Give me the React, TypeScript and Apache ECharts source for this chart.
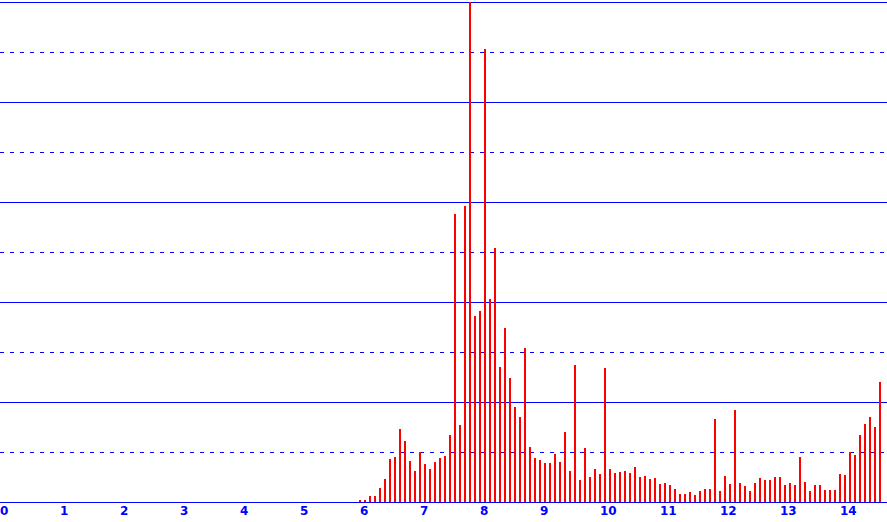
import React, { useEffect, useRef } from "react";
import * as echarts from "echarts";

// First bar sits at x = 6, then one bar every 1/12 of a unit
const firstX = 6;
const barsPerUnit = 12;
const values = [
  2, 2, 6, 6, 14, 23, 43, 45, 73, 61, 41, 31,
  50, 38, 33, 40, 44, 46, 67, 288, 77, 296, 500, 186,
  191, 453, 203, 254, 135, 174, 124, 95, 85, 154, 55, 44,
  42, 39, 39, 48, 40, 70, 31, 137, 22, 54, 25, 33,
  28, 134, 33, 29, 30, 31, 29, 35, 25, 26, 23, 24,
  18, 19, 17, 13, 8, 8, 10, 7, 11, 13, 13, 83,
  11, 26, 18, 92, 19, 16, 11, 19, 24, 22, 22, 25,
  25, 17, 19, 17, 45, 20, 11, 17, 17, 12, 12, 12,
  28, 27, 50, 47, 67, 78, 85, 75, 120,
];
const xMin = 0;
const xMax = 887 / 60;
const yMax = 500;
const yInterval = 100;

export default function App() {
  const ref = useRef<HTMLDivElement>(null);
  useEffect(() => {
    document.body.style.margin = "0";
    if (!ref.current) return;
    const chart = echarts.init(ref.current, null, { renderer: "svg" });
    const data = values.map((v, i) => [firstX + i / barsPerUnit, v]);
    chart.setOption({
      animation: false,
      backgroundColor: "#ffffff",
      grid: {
        left: 0,
        right: 0,
        top: 2,
        bottom: 20,
        containLabel: false,
        outerBoundsMode: "none",
      },
      xAxis: {
        type: "value",
        min: xMin,
        max: xMax,
        interval: 1,
        axisLine: { show: true, lineStyle: { color: "#0000ff", width: 1 } },
        axisTick: { show: false },
        splitLine: { show: false },
        axisLabel: {
          color: "#0000ff",
          fontFamily: "DejaVu Sans",
          fontWeight: "bold",
          fontSize: 12,
          align: "left",
          margin: 3,
          showMaxLabel: false,
          formatter: (v: number) => (Math.abs(v - Math.round(v)) < 1e-6 ? String(Math.round(v)) : ""),
        },
      },
      yAxis: {
        type: "value",
        min: 0,
        max: yMax,
        interval: yInterval,
        axisLine: { show: false },
        axisTick: { show: false },
        axisLabel: { show: false },
        splitLine: { show: true, lineStyle: { color: "#0000ff", width: 1, type: "solid" } },
        minorTick: { show: false, splitNumber: 2 },
        minorSplitLine: {
          show: true,
          lineStyle: { color: "#0000ff", width: 1, type: [4, 6] },
        },
      },
      series: [
        {
          type: "bar",
          data,
          barWidth: 2,
          itemStyle: { color: "#ff0000" },
          silent: true,
        },
      ],
    });
    return () => chart.dispose();
  }, []);
  return <div ref={ref} style={{ width: 887, height: 522 }} />;
}
